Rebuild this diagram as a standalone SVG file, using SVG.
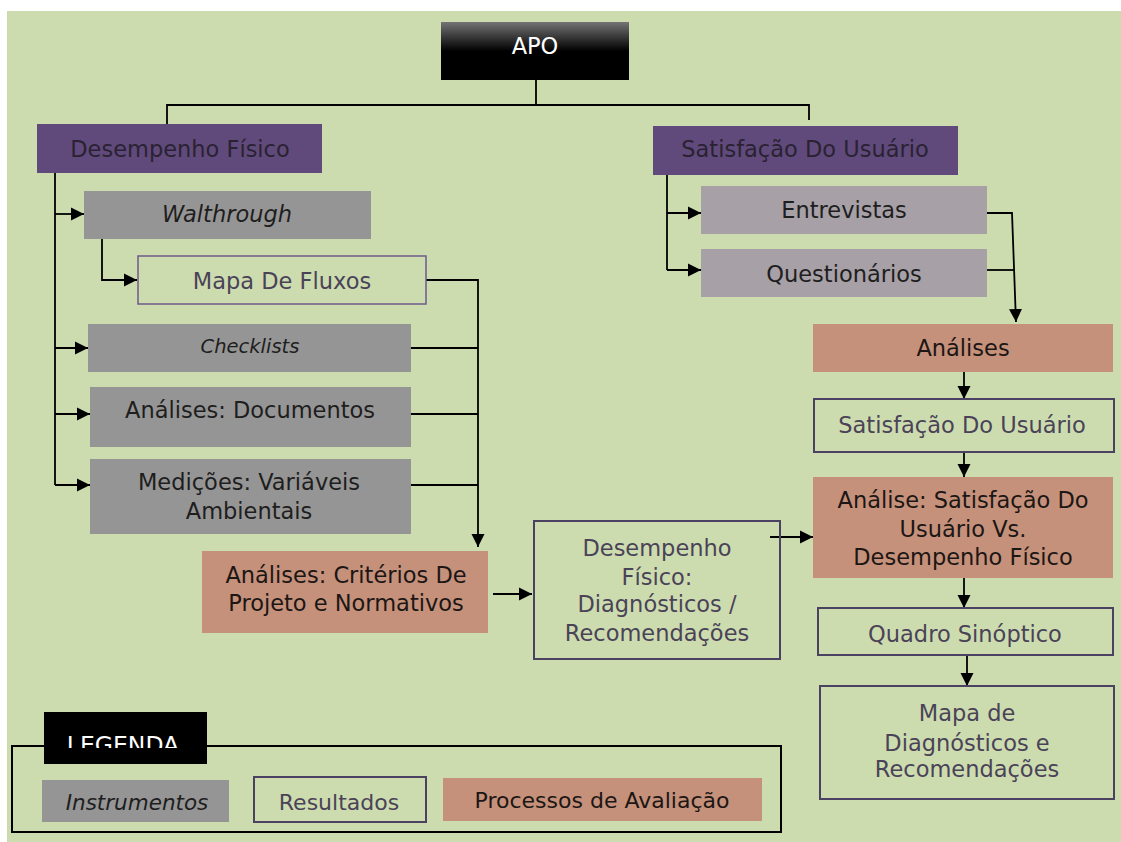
<svg xmlns="http://www.w3.org/2000/svg" width="1121" height="842" viewBox="0 0 1121 842">
<style>
text{font-family:"DejaVu Sans","Liberation Sans",sans-serif;font-size:22.5px;text-anchor:middle}
.purple{fill:#604a7b}
.tp{fill:#2a2232}
.instr{fill:#969595}
.instr2{fill:#a7a0a7}
.ti{fill:#1e1e1e}
.proc{fill:#c5917b}
.tpr{fill:#1c1614}
.res{fill:none;stroke:#4b4160;stroke-width:2}
.tr{fill:#4a4358}
.conn path{fill:none;stroke:#000;stroke-width:1.8}
.it{font-style:italic}
</style>
<defs>
<linearGradient id="apoG" x1="0" y1="0" x2="0" y2="1">
<stop offset="0" stop-color="#747474"/>
<stop offset="0.5" stop-color="#000"/>
<stop offset="1" stop-color="#000"/>
</linearGradient>
<marker id="ah" markerUnits="userSpaceOnUse" markerWidth="14" markerHeight="14" refX="13" refY="7" orient="auto">
<path d="M0,0.5 L13,7 L0,13.5 z" fill="#000"/>
</marker>
<clipPath id="legClip"><rect x="44" y="712" width="163" height="36"/></clipPath>
</defs>
<rect x="7" y="11" width="1114" height="831" fill="#cddcaf"/>

<g class="conn">
<path d="M536,80 V105 M167,124 V105 H809 V120"/>
<path d="M55,173 V485"/>
<path d="M55,214 H84" marker-end="url(#ah)"/>
<path d="M55,348 H88" marker-end="url(#ah)"/>
<path d="M55,414 H90" marker-end="url(#ah)"/>
<path d="M55,485 H90" marker-end="url(#ah)"/>
<path d="M102,239 V280 H137" marker-end="url(#ah)"/>
<path d="M426,280 H478 V547" marker-end="url(#ah)"/>
<path d="M411,348 H478 M411,414 H478 M411,485 H478"/>
<path d="M493,594 H532" marker-end="url(#ah)"/>
<path d="M770,537 H813" marker-end="url(#ah)"/>
<path d="M667,175 V270"/>
<path d="M667,213 H701" marker-end="url(#ah)"/>
<path d="M667,270 H701" marker-end="url(#ah)"/>
<path d="M986,213 H1012 L1016,322" marker-end="url(#ah)"/>
<path d="M986,270 H1014"/>
<path d="M964,372 V399" marker-end="url(#ah)"/>
<path d="M964,452 V477" marker-end="url(#ah)"/>
<path d="M964,578 V608" marker-end="url(#ah)"/>
<path d="M967,655 V686" marker-end="url(#ah)"/>
</g>

<g id="apo">
<rect x="441" y="22" width="188" height="58" fill="url(#apoG)"/>
<text x="535" y="54" fill="#fff">APO</text>
</g>
<g id="desempenho-fisico">
<rect class="purple" x="37" y="124" width="285" height="49"/>
<text class="tp" x="180" y="157">Desempenho Físico</text>
</g>
<g id="satisfacao-usuario">
<rect class="purple" x="653" y="126" width="305" height="49"/>
<text class="tp" x="805" y="157">Satisfação Do Usuário</text>
</g>
<g id="walthrough">
<rect class="instr" x="84" y="191" width="287" height="48"/>
<text class="ti it" x="227" y="222">Walthrough</text>
</g>
<g id="mapa-fluxos">
<rect x="138" y="256" width="288" height="48" fill="none" stroke="#6c5a8c" stroke-width="1.5"/>
<text class="tr" x="282" y="289">Mapa De Fluxos</text>
</g>
<g id="checklists">
<rect class="instr" x="88" y="324" width="323" height="48"/>
<text class="ti it" x="250" y="353" style="font-size:19.5px">Checklists</text>
</g>
<g id="analises-documentos">
<rect class="instr" x="90" y="387" width="321" height="60"/>
<text class="ti" x="250" y="418">Análises: Documentos</text>
</g>
<g id="medicoes">
<rect class="instr" x="90" y="459" width="321" height="75"/>
<text class="ti" x="249" y="490">Medições: Variáveis</text>
<text class="ti" x="249" y="519">Ambientais</text>
</g>
<g id="analises-criterios">
<rect class="proc" x="202" y="551" width="286" height="82"/>
<text class="tpr" x="346" y="583">Análises: Critérios De</text>
<text class="tpr" x="346" y="611">Projeto e Normativos</text>
</g>
<g id="desempenho-diagnosticos">
<rect class="res" x="534" y="521" width="246" height="138"/>
<text class="tr" x="657" y="556">Desempenho</text>
<text class="tr" x="657" y="585">Físico:</text>
<text class="tr" x="657" y="612">Diagnósticos /</text>
<text class="tr" x="657" y="641">Recomendações</text>
</g>
<g id="entrevistas">
<rect class="instr2" x="701" y="186" width="286" height="48"/>
<text class="ti" x="844" y="218">Entrevistas</text>
</g>
<g id="questionarios">
<rect class="instr2" x="701" y="249" width="286" height="48"/>
<text class="ti" x="844" y="282">Questionários</text>
</g>
<g id="analises">
<rect class="proc" x="813" y="324" width="300" height="48"/>
<text class="tpr" x="963" y="356">Análises</text>
</g>
<g id="satisfacao-resultado">
<rect class="res" x="814" y="399" width="300" height="53"/>
<text class="tr" x="962" y="433">Satisfação Do Usuário</text>
</g>
<g id="analise-satisfacao-desempenho">
<rect class="proc" x="813" y="477" width="300" height="101"/>
<text class="tpr" x="963" y="508">Análise: Satisfação Do</text>
<text class="tpr" x="963" y="537">Usuário Vs.</text>
<text class="tpr" x="963" y="565">Desempenho Físico</text>
</g>
<g id="quadro-sinoptico">
<rect class="res" x="818" y="608" width="295" height="47"/>
<text class="tr" x="965" y="642">Quadro Sinóptico</text>
</g>
<g id="mapa-diagnosticos">
<rect class="res" x="820" y="686" width="294" height="113"/>
<text class="tr" x="967" y="721">Mapa de</text>
<text class="tr" x="967" y="751">Diagnósticos e</text>
<text class="tr" x="967" y="777">Recomendações</text>
</g>

<g id="legenda">
<rect x="12" y="746" width="769" height="86" fill="none" stroke="#000" stroke-width="2"/>
<rect x="44" y="712" width="163" height="52" fill="#000"/>
<text x="123" y="753" fill="#fff" clip-path="url(#legClip)" style="font-size:23.5px">LEGENDA</text>
<rect class="instr" x="42" y="780" width="187" height="42"/>
<text class="ti it" x="137" y="810" style="font-size:21.5px">Instrumentos</text>
<rect class="res" x="254" y="777" width="172" height="45"/>
<text class="tr" x="339" y="810" style="font-size:22px">Resultados</text>
<rect class="proc" x="443" y="778" width="319" height="43"/>
<text class="tpr" x="602" y="808" style="font-size:22px">Processos de Avaliação</text>
</g>
</svg>
